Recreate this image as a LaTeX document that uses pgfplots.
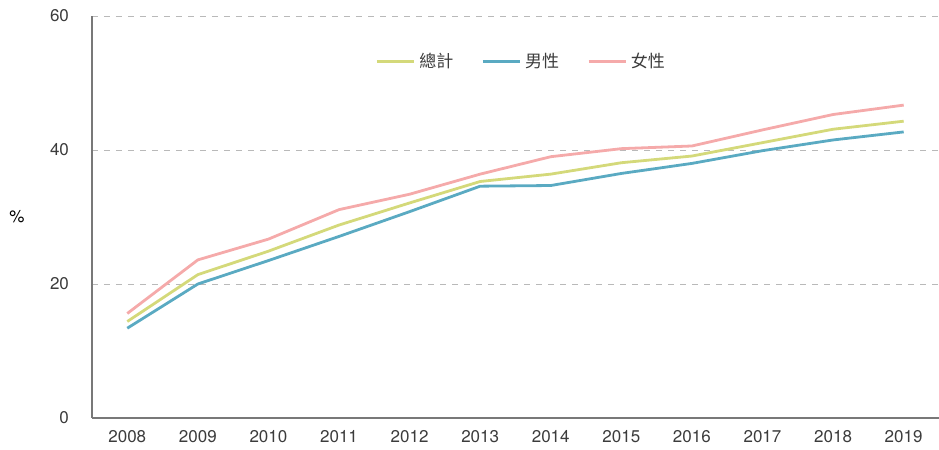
\documentclass[border=0pt]{standalone}
\usepackage{fontspec}
\setmainfont{TeX Gyre Heros}
\newfontfamily\cjk{Noto Sans CJK TC}
\usepackage{pgfplots}
\pgfplotsset{compat=1.18}
\definecolor{cTotal}{RGB}{212,217,122}
\definecolor{cMale}{RGB}{90,170,194}
\definecolor{cFemale}{RGB}{245,170,170}
\definecolor{axgray}{RGB}{120,120,120}
\definecolor{gridgray}{RGB}{185,185,185}
\definecolor{txt}{RGB}{60,60,60}
\begin{document}
\begin{tikzpicture}[font=\fontsize{8.5pt}{10pt}\selectfont]
\begin{axis}[
  name=ax, at={(0,0)}, anchor=south west,
  scale only axis, width=423.5pt, height=201pt,
  xmin=2007.5, xmax=2019.5, ymin=0, ymax=60,
  xtick={2008,...,2019}, ytick={0,20,40,60},
  /pgf/number format/assume math mode=true,
  xticklabel={\pgfmathprintnumber[1000 sep={}]{\tick}},
  xticklabel style={/pgf/number format/1000 sep={}, yshift=-2.5pt, text=txt},
  yticklabel style={xshift=-8pt, text=txt},
  major tick length=0pt,
  axis x line*=bottom, axis y line*=left,
  axis line style={axgray, line width=0.9pt},
  ymajorgrids, grid style={gridgray, dashed, line width=0.5pt},
  ylabel={\%}, ylabel style={rotate=-90, text=txt},
  every axis y label/.style={at={(rel axis cs:0,0.5)}, anchor=center, xshift=-37.5pt},
  legend style={at={(rel axis cs:0.508,0.886)}, anchor=center, draw=none, fill=none,
    legend columns=3, text=txt, font=\cjk\fontsize{8.5pt}{10pt}\selectfont,
    /tikz/every even column/.append style={column sep=12pt}},
  legend image code/.code={\draw[#1] (0pt,0pt) -- (18.5pt,0pt);},
  every axis plot/.append style={line width=1.4pt, line join=round},
]
\addplot[cTotal] coordinates {(2008,14.4) (2009,21.4) (2010,24.9) (2011,28.8) (2012,32.1) (2013,35.3) (2014,36.4) (2015,38.1) (2016,39.1) (2017,41.1) (2018,43.1) (2019,44.3)};
\addlegendentry{總計}
\addplot[cMale] coordinates {(2008,13.4) (2009,20.0) (2010,23.5) (2011,27.1) (2012,30.8) (2013,34.6) (2014,34.7) (2015,36.5) (2016,38.0) (2017,39.9) (2018,41.5) (2019,42.7)};
\addlegendentry{男性}
\addplot[cFemale] coordinates {(2008,15.6) (2009,23.6) (2010,26.7) (2011,31.1) (2012,33.4) (2013,36.4) (2014,39.0) (2015,40.2) (2016,40.6) (2017,43.0) (2018,45.3) (2019,46.7)};
\addlegendentry{女性}
\end{axis}
\pgfresetboundingbox
\path (-46pt,-16pt) rectangle (423.5pt,209pt);
\end{tikzpicture}
\end{document}
